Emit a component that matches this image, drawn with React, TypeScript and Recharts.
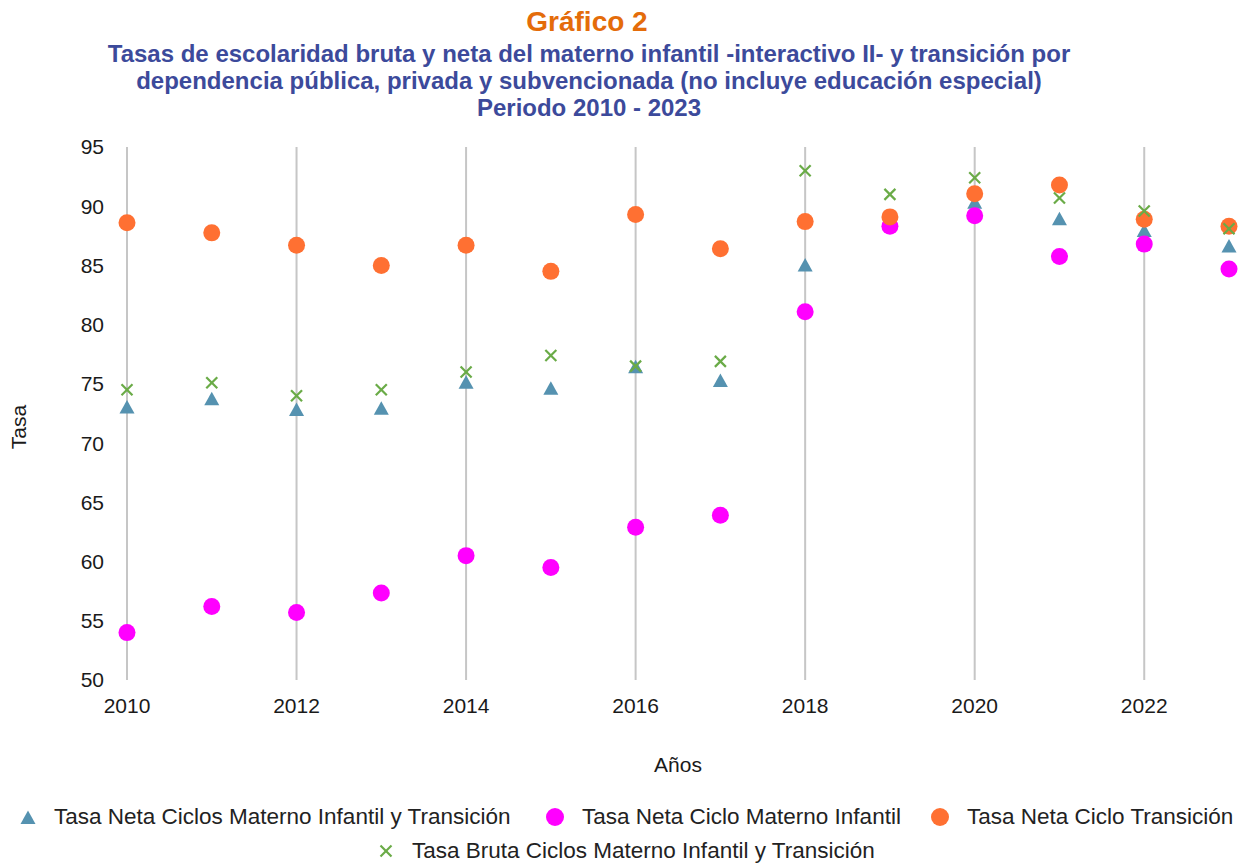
import { ReferenceLine, Scatter, ScatterChart, XAxis, YAxis } from 'recharts';

const years = [2010, 2011, 2012, 2013, 2014, 2015, 2016, 2017, 2018, 2019, 2020, 2021, 2022, 2023];

const netaCiclos = [73.0, 73.7, 72.8, 72.9, 75.1, 74.6, 76.4, 75.25, 85.0, 88.6, 90.3, 88.9, 87.9, 86.6];
const netaMaterno = [54.0, 56.2, 55.7, 57.35, 60.5, 59.5, 62.9, 63.9, 81.1, 88.3, 89.2, 85.75, 86.8, 84.7];
const netaTransicion = [88.6, 87.75, 86.7, 85.0, 86.7, 84.5, 89.3, 86.4, 88.7, 89.1, 91.05, 91.8, 88.9, 88.3];
const brutaCiclos = [74.5, 75.1, 74.0, 74.5, 76.0, 77.4, 76.5, 76.9, 93.0, 91.0, 92.4, 90.7, 89.6, 88.1];

const xTicks = [2010, 2012, 2014, 2016, 2018, 2020, 2022];
const yTicks = [50, 55, 60, 65, 70, 75, 80, 85, 90, 95];

const BLUE = '#5592b0';
const MAGENTA = '#ff00ff';
const ORANGE = '#ff7032';
const GREEN = '#6aab47';
const FONT = '"Liberation Sans", Arial, sans-serif';

const toPoints = (vals: number[]) => years.map((year, i) => ({ year, value: vals[i] }));

const Triangle = ({ cx, cy }: any) => (
  <polygon
    points={`${cx},${cy - 7.5} ${cx + 7.5},${cy + 6} ${cx - 7.5},${cy + 6}`}
    fill={BLUE}
  />
);

const Dot = (color: string) => ({ cx, cy }: any) => <circle cx={cx} cy={cy} r={8.5} fill={color} />;

const Cross = ({ cx, cy }: any) => (
  <g stroke={GREEN} strokeWidth={2.2}>
    <line x1={cx - 5.5} y1={cy - 5.5} x2={cx + 5.5} y2={cy + 5.5} />
    <line x1={cx - 5.5} y1={cy + 5.5} x2={cx + 5.5} y2={cy - 5.5} />
  </g>
);

// marker centre x, text start x, row centre y
const legendItems = [
  { name: 'Tasa Neta Ciclos Materno Infantil y Transición', kind: 'tri', mx: 28, tx: 54, y: 817 },
  { name: 'Tasa Neta Ciclo Materno Infantil', kind: 'mag', mx: 555, tx: 582, y: 817 },
  { name: 'Tasa Neta Ciclo Transición', kind: 'ora', mx: 940, tx: 967, y: 817 },
  { name: 'Tasa Bruta Ciclos Materno Infantil y Transición', kind: 'x', mx: 386, tx: 412, y: 851 },
];

function LegendMarker({ kind }: { kind: string }) {
  return (
    <svg width={20} height={20}>
      {kind === 'tri' && <Triangle cx={10} cy={11} />}
      {kind === 'mag' && <circle cx={10} cy={10} r={9} fill={MAGENTA} />}
      {kind === 'ora' && <circle cx={10} cy={10} r={9} fill={ORANGE} />}
      {kind === 'x' && <Cross cx={10} cy={10} />}
    </svg>
  );
}

export default function App() {
  return (
    <div
      style={{
        position: 'absolute',
        left: 0,
        top: 0,
        width: 1241,
        height: 863,
        background: '#fff',
        fontFamily: FONT,
      }}>
      <div
        style={{
          position: 'absolute',
          left: 0,
          top: 6,
          width: 1174,
          textAlign: 'center',
          fontSize: 28,
          lineHeight: '32px',
          fontWeight: 'bold',
          color: '#e46c0a',
        }}>
        Gráfico 2
      </div>
      <div
        style={{
          position: 'absolute',
          left: 0,
          top: 40,
          width: 1178,
          textAlign: 'center',
          fontSize: 24,
          lineHeight: '27px',
          fontWeight: 'bold',
          color: '#3c4a9b',
        }}>
        <div>Tasas de escolaridad bruta y neta del materno infantil -interactivo II- y transición por</div>
        <div>dependencia pública, privada y subvencionada (no incluye educación especial)</div>
        <div>Periodo 2010 - 2023</div>
      </div>

      <div style={{ position: 'absolute', left: 0, top: 0 }}>
        <ScatterChart width={1241} height={863} margin={{ top: 147, right: 12, bottom: 143, left: 67 }}>
          <XAxis
            dataKey="year"
            type="number"
            domain={[2010, 2023]}
            ticks={xTicks}
            height={40}
            axisLine={false}
            tickLine={false}
            tickSize={0}
            tickMargin={18}
            tick={{ fontSize: 21, fill: '#1a1a1a', fontFamily: FONT }}
          />
          <YAxis
            dataKey="value"
            type="number"
            domain={[50, 95]}
            ticks={yTicks}
            width={60}
            axisLine={false}
            tickLine={false}
            tickSize={0}
            tickMargin={23}
            tick={{ fontSize: 21, fill: '#1a1a1a', fontFamily: FONT }}
          />
          {xTicks.map((t) => (
            <ReferenceLine key={t} x={t} stroke="#c6c6c6" strokeWidth={2} />
          ))}
          <Scatter name="Tasa Neta Ciclos Materno Infantil y Transición" data={toPoints(netaCiclos)} shape={Triangle} isAnimationActive={false} />
          <Scatter name="Tasa Neta Ciclo Materno Infantil" data={toPoints(netaMaterno)} shape={Dot(MAGENTA)} isAnimationActive={false} />
          <Scatter name="Tasa Neta Ciclo Transición" data={toPoints(netaTransicion)} shape={Dot(ORANGE)} isAnimationActive={false} />
          <Scatter name="Tasa Bruta Ciclos Materno Infantil y Transición" data={toPoints(brutaCiclos)} shape={Cross} isAnimationActive={false} />
        </ScatterChart>
      </div>

      <div
        style={{
          position: 'absolute',
          left: 19,
          top: 427,
          transform: 'translate(-50%, -50%) rotate(-90deg)',
          fontSize: 21,
          color: '#1a1a1a',
        }}>
        Tasa
      </div>
      <div
        style={{
          position: 'absolute',
          left: 678,
          top: 765,
          transform: 'translate(-50%, -50%)',
          fontSize: 21,
          color: '#1a1a1a',
        }}>
        Años
      </div>

      {legendItems.map((it) => (
        <div key={it.name}>
          <div style={{ position: 'absolute', left: it.mx - 10, top: it.y - 10, lineHeight: 0 }}>
            <LegendMarker kind={it.kind} />
          </div>
          <div
            style={{
              position: 'absolute',
              left: it.tx,
              top: it.y - 13,
              fontSize: 22.5,
              lineHeight: '26px',
              color: '#222',
              whiteSpace: 'nowrap',
            }}>
            {it.name}
          </div>
        </div>
      ))}
    </div>
  );
}
